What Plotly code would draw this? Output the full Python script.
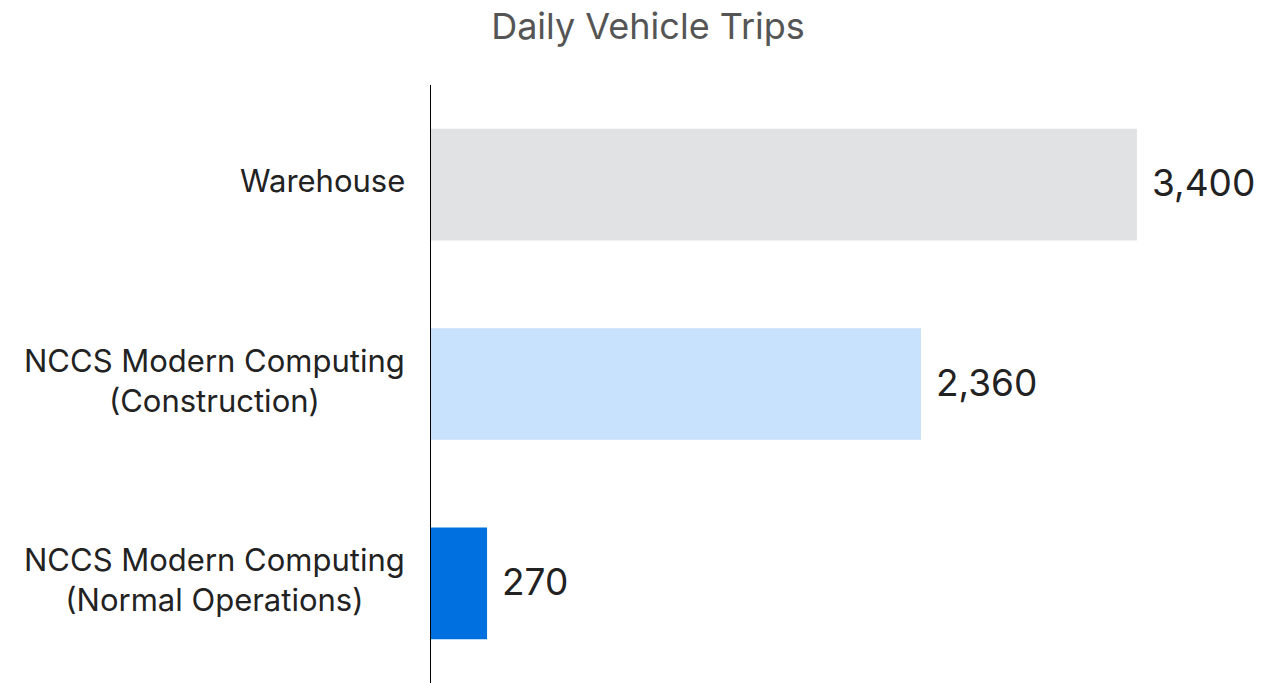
import plotly.graph_objects as go

categories = ["Warehouse", "NCCS Modern Computing<br>(Construction)", "NCCS Modern Computing<br>(Normal Operations)"]
values = [3400, 2360, 270]
value_labels = ["3,400", "2,360", "270"]
colors = ["#e1e2e4", "#c8e1fc", "#0070e0"]

fig = go.Figure()
fig.add_trace(go.Bar(
    x=values, y=categories, orientation="h",
    marker=dict(color=colors, line=dict(width=0)),
    hoverinfo="skip",
))

for c, v, t in zip(categories, values, value_labels):
    fig.add_annotation(x=v, y=c, xref="x", yref="y", text=t, showarrow=False,
                       xanchor="left", yanchor="middle", xshift=13, yshift=2,
                       font=dict(family="Inter", size=37, color="#222222"))
    fig.add_annotation(x=0, y=c, xref="paper", yref="y", text=c, showarrow=False,
                       xanchor="right", yanchor="middle", xshift=-24, yshift=4, align="center",
                       font=dict(family="Inter", size=31, color="#222222"))

fig.update_layout(
    width=1273, height=675,
    margin=dict(l=423, r=0, t=77, b=0),
    paper_bgcolor="white", plot_bgcolor="white",
    title=dict(text="Daily Vehicle Trips", x=(648 - 8) / 1273, xanchor="center", y=1 - 18/675, yanchor="middle",
               font=dict(family="Inter", size=36, color="#555555")),
    bargap=0.44,
    showlegend=False,
)
fig.update_xaxes(range=[0, 4094], showgrid=False, zeroline=False, showticklabels=False, showline=False)
fig.update_yaxes(autorange="reversed", showticklabels=False, showgrid=False, zeroline=False,
                 showline=True, linecolor="black", linewidth=1)

fig.write_html("out.html")
